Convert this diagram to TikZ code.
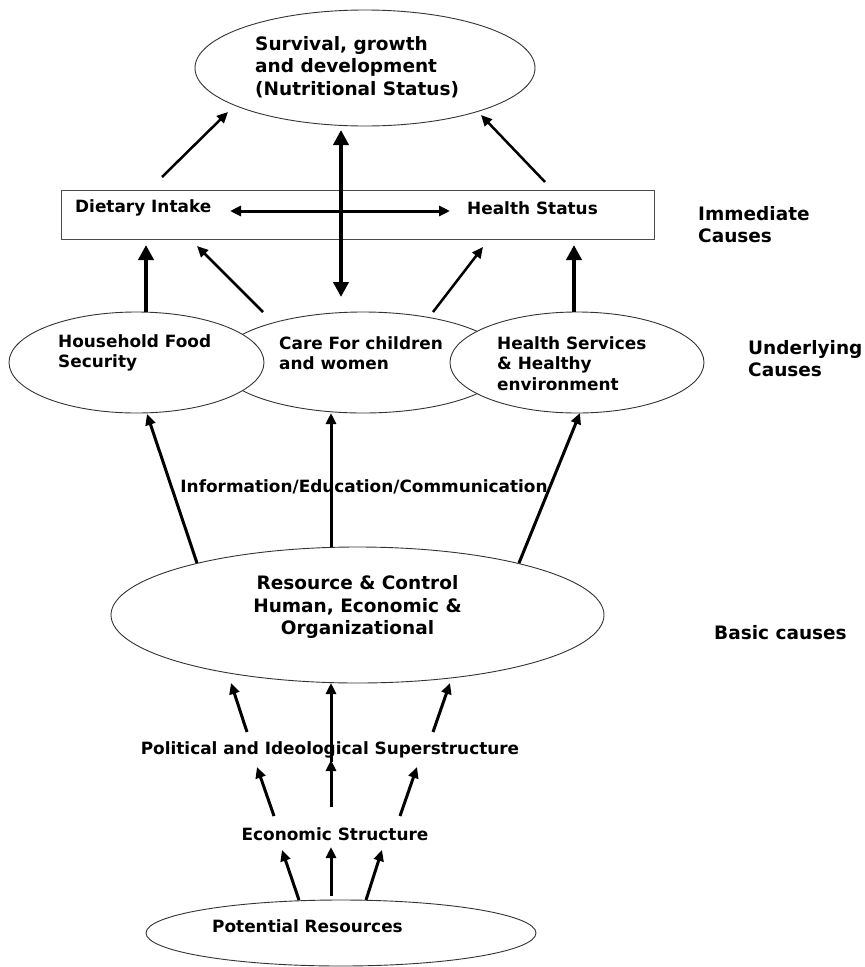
\documentclass[tikz,border=0pt]{standalone}
\usepackage{fontspec}
\setmainfont{DejaVu Sans}
\usetikzlibrary{arrows.meta,shapes.geometric}
\begin{document}
\begin{tikzpicture}[x=1pt,y=-1pt,
  ell/.style={draw=black!80, line width=0.9pt, ellipse, inner sep=0pt, fill=white},
  box/.style={draw=black!70, line width=0.9pt, rectangle, inner sep=0pt},
  big/.style={font=\fontsize{18.5}{22.5}\selectfont\bfseries, align=left, inner sep=0pt},
  sml/.style={font=\fontsize{16.9}{20.5}\selectfont\bfseries, align=left, inner sep=0pt},
  arrA/.style={line width=2.5pt, -{Triangle[length=11pt,width=10pt]}},
  arrB/.style={line width=4.5pt, -{Triangle[length=15pt,width=15pt]}},
  arrC/.style={line width=3pt, -{Triangle[length=11pt,width=10pt]}},
]
\useasboundingbox (0,0) rectangle (865,967);
\fill[white] (0,0) rectangle (865,967);

% shapes
\node[ell, minimum width=340pt, minimum height=116pt] (T) at (365,68) {};
\node[box, minimum width=593pt, minimum height=49pt] (R) at (357.5,214.5) {};
\node[ell, minimum width=290pt, minimum height=101pt] (M) at (363,362.5) {};
\node[ell, minimum width=255pt, minimum height=101pt] (L) at (136.5,362.5) {};
\node[ell, minimum width=254pt, minimum height=101pt] (H) at (577,362.5) {};
\node[ell, minimum width=493pt, minimum height=136pt] (S) at (357.5,615) {};
\node[ell, minimum width=390pt, minimum height=66pt] (P) at (341,933) {};

% texts
\node[big, anchor=west] (tT) at (255,67) {Survival, growth\\and development\\(Nutritional Status)};
\node[sml, anchor=west] (tDI) at (75,208) {Dietary Intake};
\node[sml, anchor=west] (tHS) at (467,208) {Health Status};
\node[big, anchor=west] (tIC) at (698,224.5) {Immediate\\Causes};
\node[sml, anchor=west] (tL) at (58,353) {Household Food\\Security};
\node[sml, anchor=west] (tM) at (279,353) {Care For children\\and women};
\node[sml, anchor=west] (tH) at (497,363.5) {Health Services\\\& Healthy\\environment};
\node[big, anchor=west] (tUC) at (748,358.5) {Underlying\\Causes};
\node[sml] (iec) at (364,487) {Information/Education/Communication};
\node[big, align=center] (tS) at (357.5,607) {Resource \& Control\\Human, Economic \&\\Organizational};
\node[big, anchor=west] (tBC) at (714,633) {Basic causes};
\node[sml] (pol) at (330,750) {Political and Ideological Superstructure};
\node[sml] (eco) at (335,834) {Economic Structure};
\node[sml, anchor=west] (tP) at (212,926) {Potential Resources};

% top level arrows
\draw[arrA] ([shift={(-195.5,-37.5)}]R.center) -- ([shift={(-137,44)}]T.center);
\draw[arrA] ([shift={(187.5,-32.5)}]R.center) -- ([shift={(116,47)}]T.center);
\draw[arrB, {Triangle[length=15pt,width=15pt]}-{Triangle[length=15pt,width=15pt]}]
  ([shift={(-24,62)}]T.center) -- ([shift={(-22,-65.5)}]M.center);
\draw[arrC, {Triangle[length=11pt,width=10pt]}-{Triangle[length=11pt,width=10pt]}]
  ([shift={(-127.5,-3.5)}]R.center) -- ([shift={(92.5,-3.5)}]R.center);

% underlying -> immediate
\draw[arrB] ([shift={(9.5,-50.5)}]L.center) -- ([shift={(-211.5,30.5)}]R.center);
\draw[arrA] ([shift={(-100,-50.5)}]M.center) -- ([shift={(-160.5,31.5)}]R.center);
\draw[arrA] ([shift={(70,-50.5)}]M.center) -- ([shift={(125.5,32.5)}]R.center);
\draw[arrB] ([shift={(-3,-50.5)}]H.center) -- ([shift={(216.5,30.5)}]R.center);

% basic -> underlying
\draw[arrC] ([shift={(-160.5,-52)}]S.center) -- ([shift={(10.5,51.5)}]L.center);
\draw[arrC] ([shift={(-26.5,-68)}]S.center) -- ([shift={(-32,50.5)}]M.center);
\draw[arrC] ([shift={(161.5,-52)}]S.center) -- ([shift={(3,50.5)}]H.center);

% political -> basic
\draw[arrC] ([shift={(-83,-18)}]pol.center) -- ([shift={(-126.5,68)}]S.center);
\draw[arrC] ([shift={(1,12)}]pol.center) -- ([shift={(-26.5,68)}]S.center);
\draw[arrC] ([shift={(103,-18)}]pol.center) -- ([shift={(92.5,68)}]S.center);

% economic -> political
\draw[arrC] ([shift={(-61,-18)}]eco.center) -- ([shift={(-73,17)}]pol.center);
\draw[arrC] ([shift={(-4,-27)}]eco.center) -- ([shift={(1,10)}]pol.center);
\draw[arrC] ([shift={(65,-18)}]eco.center) -- ([shift={(87,17)}]pol.center);

% potential -> economic
\draw[arrC] ([shift={(-42,-33)}]P.center) -- ([shift={(-53,16)}]eco.center);
\draw[arrC] ([shift={(-10,-37)}]P.center) -- ([shift={(-4,13)}]eco.center);
\draw[arrC] ([shift={(25,-33)}]P.center) -- ([shift={(47,16)}]eco.center);
\end{tikzpicture}
\end{document}
